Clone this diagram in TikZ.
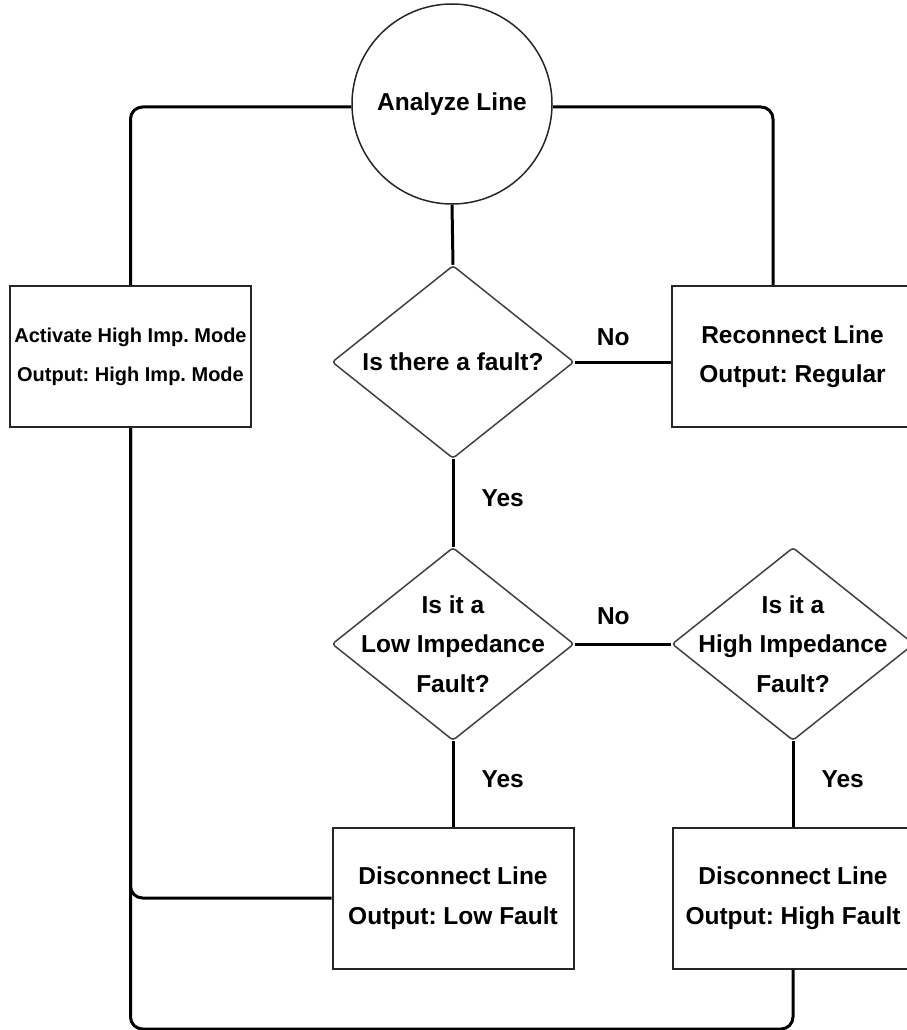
\documentclass[tikz,border=0pt]{standalone}
\usepackage{fontspec}
\setmainfont{Liberation Sans}
\usetikzlibrary{shapes.geometric}

\begin{document}
\frenchspacing
\begin{tikzpicture}[x=1pt,y=-1pt,
  txt/.style={font=\bfseries\fontsize{24.5}{39.5}\selectfont, align=center},
  proc/.style={draw=black!85, line width=2pt, txt, minimum width=241pt, minimum height=141pt, inner sep=0pt},
  start/.style={circle, draw=black!85, line width=1.5pt, txt, minimum size=200pt, inner sep=0pt},
  decide/.style={diamond, draw=black!75, line width=1.5pt, rounded corners=3pt, minimum width=242pt, minimum height=193pt, inner sep=0pt},
  qtext/.style={txt, inner sep=0pt},
  conn/.style={line width=3pt, rounded corners=12pt},
  lbl/.style={font=\bfseries\fontsize{24.5}{30}\selectfont, inner sep=0pt}]
\useasboundingbox (0,0) rectangle (906,1030);

\node[start] (analyze) at (452,104) {Analyze Line};
\node[proc, font=\bfseries\fontsize{20}{39}\selectfont] (activate) at (130.5,356.5) {Activate High Imp. Mode\\Output: High Imp. Mode};
\node[decide, label={[qtext]center:Is there a fault?}] (fault) at (453,362) {};
\node[proc] (reconnect) at (792.5,356.5) {Reconnect Line\\Output: Regular};

\node[decide, label={[qtext]center:{Is it a\\Low Impedance\\Fault?}}] (lowq) at (453,644) {};
\node[decide, label={[qtext]center:{Is it a\\High Impedance\\Fault?}}] (highq) at (793,644) {};

\node[proc] (lowout) at (453,898) {Disconnect Line\\Output: Low Fault};
\node[proc] (highout) at (793,898) {Disconnect Line\\Output: High Fault};

\draw[conn] ([yshift=-3pt]analyze.west) -| (activate.north);
\draw[conn] ([yshift=-3pt]analyze.east) -| ([xshift=-19.5pt]reconnect.north);
\draw[conn] (analyze.south) -- (fault.north);
\draw[conn] (fault.east) -- node[lbl, pos=0.4, above=15pt] (no1) {No} (fault.east -| reconnect.west);
\draw[conn] (fault.south) -- node[lbl, pos=0.45, right=27pt] (yes1) {Yes} (lowq.north);
\draw[conn] (lowq.east) -- node[lbl, pos=0.4, above=18pt] (no2) {No} (highq.west);
\draw[conn] (lowq.south) -- node[lbl, pos=0.45, right=27pt] (yes2) {Yes} (lowout.north);
\draw[conn] (highq.south) -- node[lbl, pos=0.45, right=27pt] (yes3) {Yes} (highout.north);
\draw[conn] (activate.south) |- (lowout.west);
\draw[conn] (activate.south) -- ++(0,601) -| (highout.south);

\end{tikzpicture}
\end{document}
